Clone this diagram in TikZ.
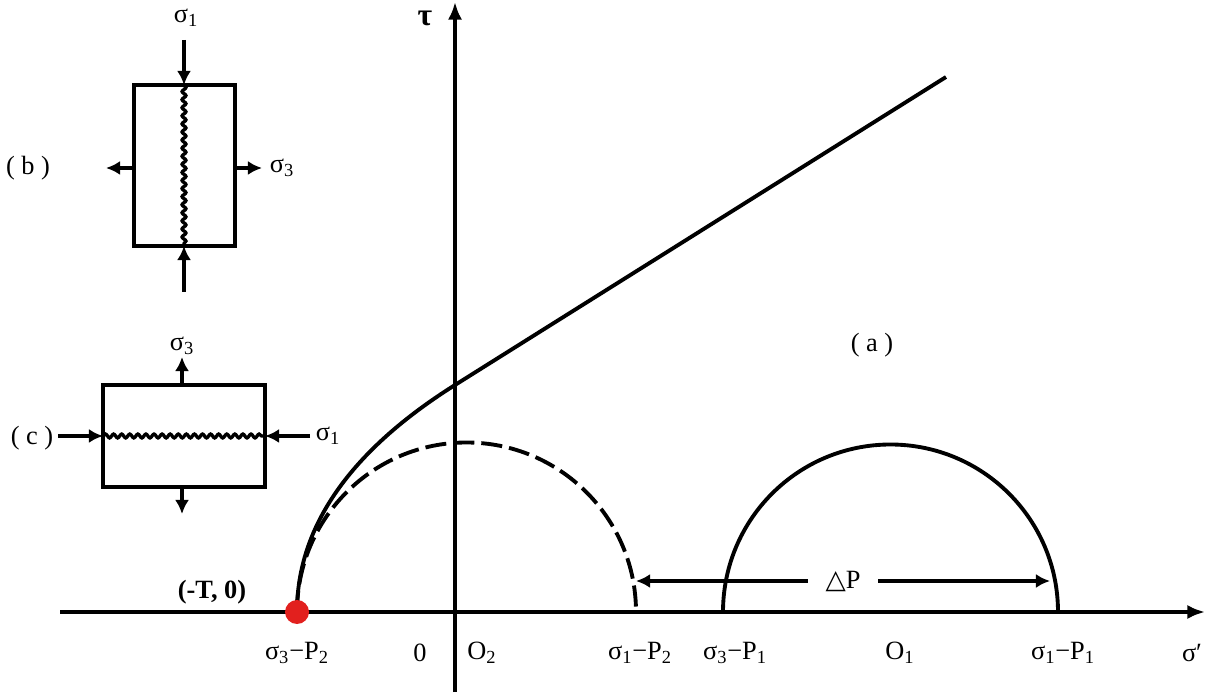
\documentclass[tikz,border=0pt]{standalone}
\usepackage{fontspec}
\setmainfont{Liberation Serif}
\newfontfamily\symfont{DejaVu Sans}
\usetikzlibrary{arrows.meta,decorations.pathmorphing}
\definecolor{kred}{RGB}{226,32,30}
\begin{document}
\begin{tikzpicture}[x=0.02cm,y=0.02cm,
  ax/.style={line width=2pt,-{Latex[length=10pt,width=8pt]}},
  frc/.style={line width=2.4pt,-{Latex[length=8pt,width=8pt]}},
  box/.style={line width=2.8pt},
  crk/.style={line width=1.9pt,decorate,decoration={snake,amplitude=1.1pt,segment length=4.6pt}},
  lb/.style={font=\fontsize{15}{17}\selectfont,inner sep=1pt}]
\useasboundingbox (0,0) rectangle (1219,696);
\pgfmathsetmacro{\ky}{84}
\pgfmathsetmacro{\kr}{169.5}
\pgfmathsetmacro{\kR}{167.5}
% axes
\coordinate (sl) at (60,\ky);
\coordinate (sr) at (1205,\ky);
\coordinate (tb) at (455,4);
\coordinate (tt) at (455,694);
\draw[ax] (sl) -- (sr);
\draw[ax] (tb) -- (tt);
\node[lb,font=\fontsize{18}{18}\selectfont\bfseries] (tau) at (425,678) {τ};
% Mohr circles
\coordinate (T) at (297,\ky);
\coordinate (p2) at (297+2*\kr,\ky);
\coordinate (q1) at (723,\ky);
\coordinate (p1) at (723+2*\kR,\ky);
\draw[line width=2.2pt,dash pattern=on 12pt off 4pt] (T) arc (180:0:\kr);
\draw[line width=2.2pt] (q1) arc (180:0:\kR);
% envelope
\coordinate (ti) at (455,311);
\coordinate (te) at (946,619);
\draw[line width=2.2pt] (T) .. controls (297,169) and (350,245) .. (ti) -- (te);
% pressure shift
\coordinate (d1) at (636,115);
\coordinate (d2) at (1050,115);
\draw[frc,{Latex[length=8pt,width=8pt]}-{Latex[length=8pt,width=8pt]}] (d1) -- node[lb,fill=white,inner xsep=10pt]{{\symfont △}P} (d2);
\fill[kred] (T) circle (12);
\node[lb,font=\fontsize{15}{17}\selectfont\bfseries] (Tlb) at (212,104) {(-T, 0)};
% axis labels
\foreach \kx/\xlb/\nm in {297/{σ\textsubscript{3}−P\textsubscript{2}}/a,420/{0}/b,482/{O\textsubscript{2}}/c,640/{σ\textsubscript{1}−P\textsubscript{2}}/d,735/{σ\textsubscript{3}−P\textsubscript{1}}/e,900/{O\textsubscript{1}}/f,1063/{σ\textsubscript{1}−P\textsubscript{1}}/g,1192/{σ′}/h}{\node[lb] (x\nm) at (\kx,43) {\xlb};}
\foreach \kx/\ky/\xlb/\nm in {872/351/a,28/528/b,32/258/c}{\node[lb] (fig\nm) at (\kx,\ky) {( \xlb\ )};}
% specimen (b)
\draw[box] (134,450) rectangle (235,611);
\draw[crk] (184,611) -- (184,450);
\coordinate (b1) at (184,656);
\coordinate (b2) at (184,611);
\coordinate (b3) at (184,404);
\coordinate (b4) at (184,450);
\coordinate (b5) at (134,528);
\coordinate (b6) at (106,528);
\coordinate (b7) at (235,528);
\coordinate (b8) at (262,528);
\draw[frc] (b1) -- (b2);
\draw[frc] (b3) -- (b4);
\draw[frc] (b5) -- (b6);
\draw[frc] (b7) -- (b8);
\node[lb] (bs1) at (186,678) {σ\textsubscript{1}};
\node[lb] (bs3) at (282,528) {σ\textsubscript{3}};
% specimen (c)
\draw[box] (103,209) rectangle (265,311);
\draw[crk] (103,260) -- (265,260);
\coordinate (c1) at (58,260);
\coordinate (c2) at (103,260);
\coordinate (c3) at (310,260);
\coordinate (c4) at (265,260);
\coordinate (c5) at (182,311);
\coordinate (c6) at (182,339);
\coordinate (c7) at (182,209);
\coordinate (c8) at (182,182);
\draw[frc] (c1) -- (c2);
\draw[frc] (c3) -- (c4);
\draw[frc] (c5) -- (c6);
\draw[frc] (c7) -- (c8);
\node[lb] (cs1) at (328,260) {σ\textsubscript{1}};
\node[lb] (cs3) at (182,350) {σ\textsubscript{3}};
\end{tikzpicture}
\end{document}
